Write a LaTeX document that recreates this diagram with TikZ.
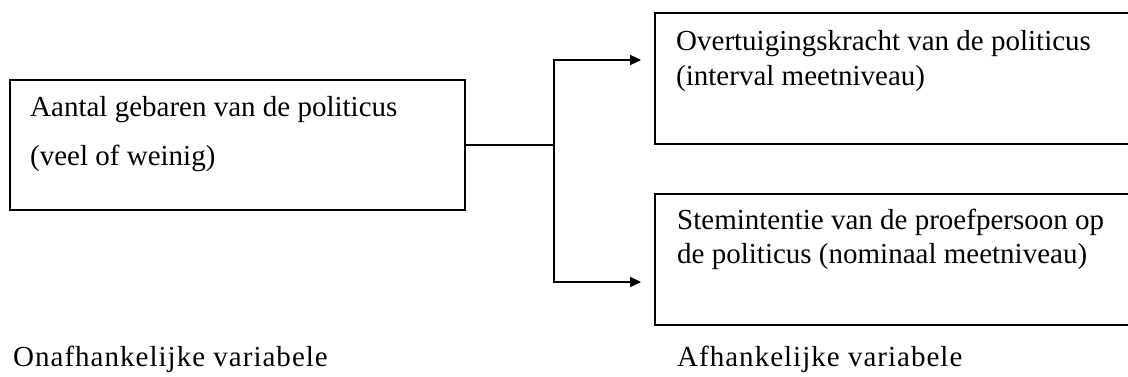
\documentclass[tikz,border=0pt]{standalone}
\usepackage{fontspec}
\setmainfont{Liberation Serif}
\usetikzlibrary{arrows.meta}
\begin{document}
\begin{tikzpicture}[x=1pt,y=-1pt,
  box/.style={draw=black,line width=1.8pt,rectangle,inner sep=0pt},
  txt/.style={anchor=base west,inner sep=0pt,font=\fontsize{29}{35}\selectfont},
  captxt/.style={txt,font=\fontsize{29}{35}\selectfont\addfontfeature{LetterSpace=3.5}},
  conn/.style={draw=black,line width=1.8pt},
  arr/.style={conn,-{Triangle[length=11pt,width=10pt]},shorten >=13pt}]
\useasboundingbox (0,0) rectangle (1128,376);
\clip (0,0) rectangle (1128,376);
% boxes
\node[box,minimum width=455pt,minimum height=130pt] (L) at (237.5,145) {};
\node[box,minimum width=490pt,minimum height=131pt] (T) at (900,78.5) {};
\node[box,minimum width=490pt,minimum height=131pt] (B) at (900,259.5) {};
% texts
\node[txt] (l1) at (30,116) {Aantal gebaren van de politicus};
\node[txt] (l2) at (30,165) {(veel of weinig)};
\node[txt] (t1) at (676,50) {Overtuigingskracht van de politicus};
\node[txt] (t2) at (676,85) {(interval meetniveau)};
\node[txt] (b1) at (677,229) {Stemintentie van de proefpersoon op};
\node[txt] (b2) at (677,263) {de politicus (nominaal meetniveau)};
\node[captxt] (c1) at (13,366) {Onafhankelijke variabele};
\node[captxt] (c2) at (677,366) {Afhankelijke variabele};
% connectors
\coordinate (fork) at (554,145);
\draw[conn] (L.east) -- (fork);
\draw[arr] (fork) |- ([yshift=18.5pt]T.west);
\draw[arr] (fork) |- ([yshift=-22.5pt]B.west);
\end{tikzpicture}
\end{document}
